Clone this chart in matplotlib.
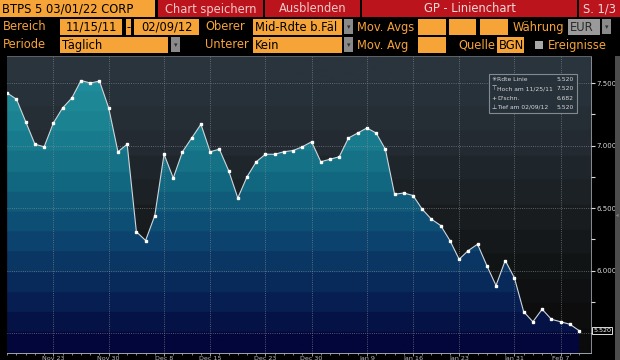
import numpy as np
import matplotlib
matplotlib.use("Agg")
import matplotlib.pyplot as plt
from matplotlib.colors import LinearSegmentedColormap
from matplotlib.patches import Rectangle, Polygon

# BTPS 5 03/01/22, mid yield, daily 11/15/11 - 02/09/12
yields = [7.42, 7.37, 7.19, 7.01, 6.99, 7.18, 7.30, 7.38, 7.52, 7.50,
          7.515, 7.30, 6.95, 7.01, 6.31, 6.24, 6.44, 6.93, 6.74, 6.95,
          7.06, 7.17, 6.95, 6.97, 6.80, 6.58, 6.75, 6.87, 6.93, 6.93,
          6.95, 6.96, 6.99, 7.03, 6.87, 6.89, 6.91, 7.06, 7.10, 7.14,
          7.10, 6.97, 6.61, 6.62, 6.60, 6.49, 6.41, 6.36, 6.24, 6.09,
          6.16, 6.21, 6.04, 5.88, 6.08, 5.94, 5.67, 5.59, 5.69, 5.61,
          5.59, 5.57, 5.52]
tick_idx = [5, 11, 17, 22, 28, 33, 39, 44, 49, 55, 60]
tick_labels = ["Nov 23", "Nov 30", "Dec 8", "Dec 15", "Dec 23", "Dec 30",
               "Jan 9", "Jan 16", "Jan 23", "Jan 31", "Feb 7"]
y_major = [5.5, 6.0, 6.5, 7.0, 7.5]
y_minor = [5.75, 6.25, 6.75, 7.25]
legend_rows = ["Rdte Linie", "Hoch am 11/25/11", "D'schn.", "Tief am 02/09/12"]
legend_marks = ["✳", "⊤", "+", "⊥"]
legend_vals = ["5.520", "7.520", "6.682", "5.520"]

ORANGE = "#f6a338"
RED = "#bb141d"
TXT = 8.3

fig = plt.figure(figsize=(6.2, 3.6), dpi=100, facecolor="black")

# ---- main chart ----
ax = fig.add_axes([7 / 620, 7 / 360, 584 / 620, 297 / 360])
ax.set_facecolor("black")
x = np.arange(len(yields))
ymin, ymax = 5.34, 7.716
ax.set_xlim(-0.03, 63.3)
ax.set_ylim(ymin, ymax)

bg_cmap = LinearSegmentedColormap.from_list(
    "bg", ["#0b0b0b", "#111314", "#1b1f22", "#242c33", "#2a343d"], N=12)
ax.imshow(np.linspace(0, 1, 200).reshape(-1, 1), cmap=bg_cmap, origin="lower",
          extent=[-0.03, 63.3, ymin, ymax], aspect="auto", zorder=0)

fill_cmap = LinearSegmentedColormap.from_list(
    "fill", ["#03063a", "#082658", "#0c4570", "#12657f", "#1a8090", "#1f8c9b"], N=14)
im = ax.imshow(np.linspace(0, 1, 200).reshape(-1, 1), cmap=fill_cmap, origin="lower",
               extent=[0, x[-1], ymin, 7.6], aspect="auto", zorder=1)
verts = [(x[0], ymin)] + list(zip(x, yields)) + [(x[-1], ymin)]
clip = Polygon(verts, closed=True, transform=ax.transData)
im.set_clip_path(clip)

ax.plot(x, yields, color="#cfd6da", lw=0.8, marker="s", ms=1.7,
        mfc="white", mec="white", zorder=3)

ax.set_xticks(tick_idx)
ax.set_xticklabels(tick_labels)
ax.set_xticks(x, minor=True)
ax.set_yticks(y_major)
ax.set_yticklabels(["" if v == 5.5 else f"{v:.3f}" for v in y_major])
ax.set_yticks(y_minor, minor=True)
ax.yaxis.tick_right()
ax.tick_params(axis="x", which="both", colors="#b8bcc0", labelsize=4.6, pad=0.5)
ax.tick_params(axis="x", which="major", length=2, width=0.6)
ax.tick_params(axis="x", which="minor", length=1.5, width=0.5)
ax.tick_params(axis="y", which="both", colors="#d8d8d8", labelsize=5, pad=1,
               length=3, width=0.8)
ax.set_axisbelow(False)
ax.grid(True, which="major", color="#8a9096", ls=":", lw=0.6, alpha=0.8)

ax.spines["left"].set_visible(False)
ax.spines["top"].set_color("#5e6369")
ax.spines["bottom"].set_color("#a0a4a8")
ax.spines["right"].set_color("#8a8e92")
for s in ax.spines.values():
    s.set_linewidth(0.7)

ax.annotate(f"{yields[-1]:.3f}", xy=(1.004, yields[-1]), xycoords=ax.get_yaxis_transform(),
            fontsize=4.6, color="white", va="center", ha="left",
            bbox=dict(boxstyle="square,pad=0.15", fc="black", ec="white", lw=0.6))

# ---- overlay in pixel coordinates ----
ov = fig.add_axes([0, 0, 1, 1], zorder=10)
ov.set_xlim(0, 620)
ov.set_ylim(360, 0)
ov.axis("off")
ov.patch.set_alpha(0)


def box(x0, y0, x1, y1, color, text="", tcolor="black", center=False, size=TXT):
    ov.add_patch(Rectangle((x0, y0), x1 - x0, y1 - y0, facecolor=color, lw=0))
    if text:
        tx = (x0 + x1) / 2 if center else x0 + 2
        ov.text(tx, (y0 + y1) / 2 + 0.5, text, color=tcolor, fontsize=size,
                ha="center" if center else "left", va="center")


def label(x0, y, text, color=ORANGE):
    ov.text(x0, y, text, color=color, fontsize=TXT, ha="left", va="center")


def dropdown(x0, y0):
    box(x0, y0, x0 + 9, y0 + 15, "#8a8a8a")
    ov.text(x0 + 4.5, y0 + 8, "▾", color="#303030", fontsize=5, ha="center", va="center")


# row 1
box(0, 0, 155, 17, ORANGE, "BTPS 5 03/01/22 CORP")
box(158, 0, 263, 17, RED, "Chart speichern", tcolor="#f3c8c8", center=True)
box(265, 0, 360, 17, RED, "Ausblenden", tcolor="#f3c8c8", center=True)
box(362, 0, 577, 17, RED, "GP - Linienchart", tcolor="#f3dada", center=True)
box(579, 0, 620, 17, RED, "S. 1/3", tcolor="#f3dada", center=True)

# row 2
r2 = 19
label(3, r2 + 8, "Bereich")
box(60, r2, 122, r2 + 16, ORANGE, "11/15/11", center=True)
box(126, r2, 131, r2 + 16, ORANGE, "-", center=True)
box(134, r2, 199, r2 + 16, ORANGE, "02/09/12", center=True)
label(205, r2 + 8, "Oberer")
box(253, r2, 342, r2 + 16, ORANGE, "Mid-Rdte b.Fäl")
dropdown(344, r2)
label(357, r2 + 8, "Mov. Avgs")
box(418, r2, 446, r2 + 16, ORANGE)
box(449, r2, 476, r2 + 16, ORANGE)
box(480, r2, 508, r2 + 16, ORANGE)
label(513, r2 + 8, "Währung")
box(568, r2, 600, r2 + 16, "#9a9a9a", "EUR", tcolor="#2a2a2a")
dropdown(602, r2)

# row 3
r3 = 37
label(3, r3 + 8, "Periode")
box(60, r3, 168, r3 + 16, ORANGE, "Täglich")
dropdown(171, r3)
label(205, r3 + 8, "Unterer")
box(253, r3, 342, r3 + 16, ORANGE, "Kein")
dropdown(344, r3)
label(357, r3 + 8, "Mov. Avg")
box(418, r3, 446, r3 + 16, ORANGE)
label(458, r3 + 8, "Quelle")
box(497, r3, 524, r3 + 16, ORANGE, "BGN")
ov.add_patch(Rectangle((535, r3 + 4), 8, 8, facecolor="#a8a8a8", lw=0))
label(548, r3 + 8, "Ereignisse")

# right scroll strip
ov.add_patch(Rectangle((615, 56), 5, 304, facecolor="#4c4c4c", lw=0))
ov.text(617.5, 216, "«", color="#c0c0c0", fontsize=4, ha="center", va="center")

# stats legend
ov.add_patch(Rectangle((489, 74), 88, 39, facecolor="#27313a", edgecolor="#8c959c",
                       lw=0.8, alpha=0.9))
for i, (m, t, v) in enumerate(zip(legend_marks, legend_rows, legend_vals)):
    yy = 79.5 + i * 9.3
    ov.text(491.5, yy, m, color="#e0e0e0", fontsize=4.3, ha="left", va="center")
    ov.text(497, yy, t, color="#d8d8d8", fontsize=4.3, ha="left", va="center")
    ov.text(574, yy, v, color="#d8d8d8", fontsize=4.3, ha="right", va="center")

fig.savefig("out.png", dpi=100, facecolor="black")
